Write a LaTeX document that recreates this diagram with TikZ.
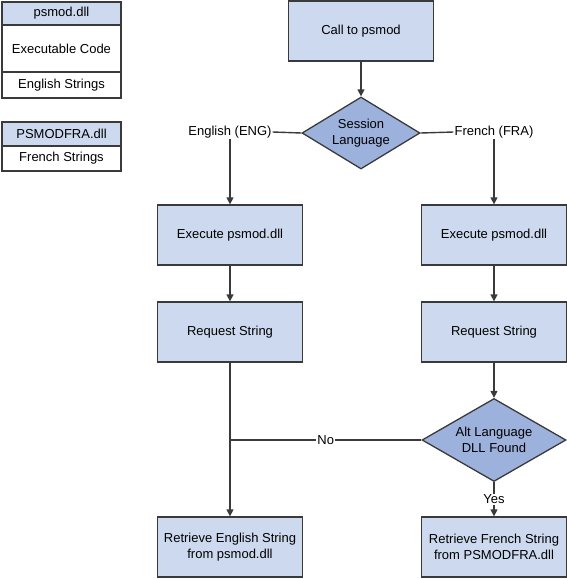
\documentclass[tikz,border=0pt]{standalone}
\usepackage{fontspec}
\setmainfont{Liberation Sans}
\usetikzlibrary{shapes.geometric,arrows.meta}
\definecolor{boxblue}{HTML}{CCD9EE}
\definecolor{diablue}{HTML}{9CB1DB}
\definecolor{linegray}{HTML}{3A3A3A}
\begin{document}
\begin{tikzpicture}[x=1pt,y=-1pt,->,>={Triangle[length=7pt,width=7pt]},font=\fontsize{13}{15.5}\selectfont]
        \tikzstyle{step box}=[rectangle,draw=linegray,line width=1.3pt,fill=boxblue,minimum width=145,minimum height=60,align=center,inner sep=2pt]
        \tikzstyle{decision}=[diamond,draw=linegray,line width=1.3pt,fill=diablue,aspect=1.7,inner sep=0pt,align=center]
        \tikzstyle{legend}=[rectangle,draw=linegray,line width=1.3pt,minimum width=119,inner sep=0pt]
        \tikzstyle{edge}=[draw=linegray,line width=1.4pt]
        \useasboundingbox (0,0) rectangle (567,579);
       \begin{scope}
         % legend
         \node [legend,fill=boxblue,minimum height=23] (dllhead) at (61.5,13.5) {psmod.dll};
         \node [legend,fill=white,minimum height=47] (dllcode) at (61.5,48.5) {Executable Code};
         \node [legend,fill=white,minimum height=26] (dllstr) at (61.5,85) {English Strings};
         \node [legend,fill=boxblue,minimum height=24] (frahead) at (61.5,134) {PSMODFRA.dll};
         \node [legend,fill=white,minimum height=25] (frastr) at (61.5,158.5) {French Strings};
         % flow
         \node [step box] (call) at (361,31) {Call to psmod};
         \node [decision,minimum width=118,minimum height=72] (sess) at (361,133) {Session\\Language};
         \node [inner sep=1pt] (eng) at (230,132) {English (ENG)};
         \node [inner sep=1pt] (fra) at (494,132) {French (FRA)};
         \node [step box] (exeE) at (230,235) {Execute psmod.dll};
         \node [step box] (exeF) at (494,235) {Execute psmod.dll};
         \node [step box] (reqE) at (230,332) {Request String};
         \node [step box] (reqF) at (494,332) {Request String};
         \node [decision,minimum width=144,minimum height=83] (alt) at (494,440) {Alt Language\\DLL Found};
         \node [step box] (retE) at (230,547) {Retrieve English String\\from psmod.dll};
         \node [step box] (retF) at (494,547) {Retrieve French String\\from PSMODFRA.dll};
         \coordinate (join) at (reqE.south |- alt.west);
         \path[edge] (call) -- (sess);
         \path[edge,-] (sess.west) -- (eng.east);
         \path[edge,-] (sess.east) -- (fra.west);
         \path[edge] (eng.south) -- (exeE.north);
         \path[edge] (fra.south) -- (exeF.north);
         \path[edge] (exeE) -- (reqE);
         \path[edge] (exeF) -- (reqF);
         \path[edge] (reqF) -- (alt);
         \path[edge] (reqE.south) -- (retE.north);
         \path[edge,-] (alt.west) -- node[fill=white,inner sep=1pt] {No} (join);
         \path[edge] (alt.south) -- node[fill=white,inner sep=1pt] {Yes} (retF.north);
        \end{scope}
      \end{tikzpicture}
\end{document}
